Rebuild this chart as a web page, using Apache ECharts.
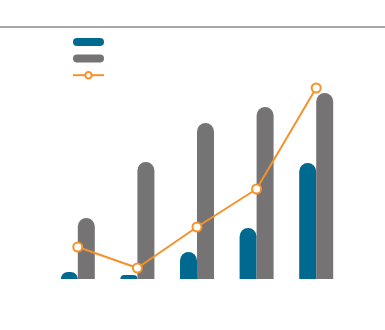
<!DOCTYPE html>
<html><head><meta charset="utf-8">
<script src="https://cdn.jsdelivr.net/npm/echarts@6/dist/echarts.min.js"></script>
<style>html,body{margin:0;padding:0;background:#fff}#c{width:385px;height:330px}</style>
</head><body><div id="c"></div>
<script>
var categories = ['1', '2', '3', '4', '5'];
var seriesA = [7, 4, 27, 51, 116];
var seriesB = [61, 117, 156, 172, 186];
var seriesC = [32, 11, 52, 90, 191];
var names = ['A', 'B', 'C'];

var pill = 'path://M4,0 H27 A4,4 0 0 1 27,8 H4 A4,4 0 0 1 4,0 Z';
var chart = echarts.init(document.getElementById('c'), null, {renderer: 'canvas'});
chart.setOption({
  animation: false,
  backgroundColor: '#fff',
  graphic: [{
    type: 'line', shape: {x1: 0, y1: 27, x2: 385, y2: 27},
    style: {stroke: '#a6a6a6', lineWidth: 2}
  }],
  legend: {
    orient: 'vertical', left: 72, top: 38, itemWidth: 31, itemHeight: 8, itemGap: 8.5,
    padding: 0,
    formatter: function () { return ''; },
    data: [
      {name: names[0], icon: pill},
      {name: names[1], icon: pill},
      {name: names[2]}
    ]
  },
  grid: {left: 48, right: 39, top: 79, bottom: 51, containLabel: false},
  xAxis: {
    type: 'category', data: categories,
    axisLine: {show: false}, axisTick: {show: false}, axisLabel: {show: false}
  },
  yAxis: {
    type: 'value', min: 0, max: 200,
    axisLine: {show: false}, axisTick: {show: false}, axisLabel: {show: false},
    splitLine: {show: false}
  },
  series: [
    {name: names[0], type: 'bar', data: seriesA, barWidth: 17, barGap: '0%',
     itemStyle: {color: '#00698f', borderRadius: [8.5, 8.5, 0, 0]}},
    {name: names[1], type: 'bar', data: seriesB, barWidth: 17, barGap: '0%',
     itemStyle: {color: '#757373', borderRadius: [8.5, 8.5, 0, 0]}},
    {name: names[2], type: 'line', data: seriesC, symbol: 'circle', symbolSize: 9,
     lineStyle: {color: '#f5922a', width: 2},
     itemStyle: {color: '#fff', borderColor: '#f5922a', borderWidth: 2}}
  ]
});
</script></body></html>
